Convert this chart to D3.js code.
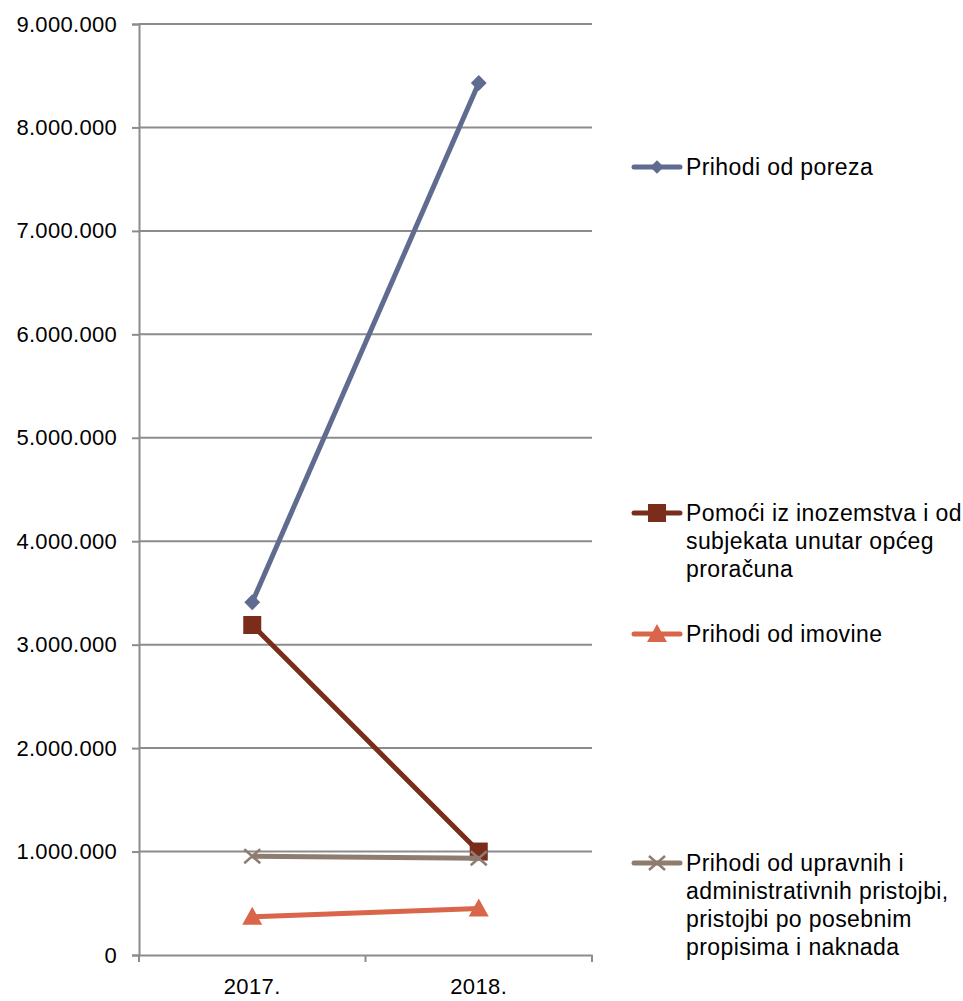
<!DOCTYPE html>
<html><head><meta charset="utf-8">
<script src="https://d3js.org/d3.v7.min.js"></script>
<style>body{margin:0;background:#fff}svg{display:block;font-family:"Liberation Sans",Arial,sans-serif}</style>
</head><body>
<script>
const categories = ["2017.", "2018."];
const seriesNames = [
  "Prihodi od poreza",
  "Pomoći iz inozemstva i od subjekata unutar općeg proračuna",
  "Prihodi od imovine",
  "Prihodi od upravnih i administrativnih pristojbi, pristojbi po posebnim propisima i naknada"
];
const porez = [3410000, 8430000];
const pomoci = [3190000, 1000000];
const imovina = [370000, 450000];
const upravne = [955000, 935000];
const yTicks = [0,1000000,2000000,3000000,4000000,5000000,6000000,7000000,8000000,9000000];
const legendLines = [
  ["Prihodi od poreza"],
  ["Pomoći iz inozemstva i od","subjekata unutar općeg","proračuna"],
  ["Prihodi od imovine"],
  ["Prihodi od upravnih i","administrativnih pristojbi,","pristojbi po posebnim","propisima i naknada"]
];
const colors = ["#5f6b8f","#7a2d1b","#d9664a","#8e7c70"];
const markers = ["diamond","square","triangle","x"];
const legendY = [167, 513, 634, 863];

const W=963,H=1001;
const svg=d3.select("body").append("svg").attr("width",W).attr("height",H);
const x=d3.scaleBand().domain(categories).range([139,592]);
const y=d3.scaleLinear().domain([0,9000000]).range([955,24]);
const fmt=v=>v===0?"0":d3.format(",")(v).replace(/,/g,".");
const FF="Liberation Sans, Arial, sans-serif";

// grid
svg.append("g").selectAll("line").data(yTicks.filter(d=>d>0)).join("line")
 .attr("x1",139).attr("x2",592).attr("y1",d=>y(d)).attr("y2",d=>y(d))
 .attr("stroke","#8c8c8c").attr("stroke-width",2);
// y axis
const ya=svg.append("g").attr("transform","translate(139,0)")
 .call(d3.axisLeft(y).tickValues(yTicks).tickFormat(fmt).tickSize(7).tickPadding(15));
ya.select(".domain").attr("stroke","#8c8c8c").attr("stroke-width",2);
ya.selectAll(".tick line").attr("stroke","#8c8c8c").attr("stroke-width",2);
ya.selectAll("text").attr("font-size",22).attr("letter-spacing",0.3).attr("fill","#000").attr("font-family",FF);
// x axis
const xa=svg.append("g").attr("transform","translate(0,955)")
 .call(d3.axisBottom(x).tickSize(0).tickPadding(23));
xa.select(".domain").attr("stroke","#8c8c8c").attr("stroke-width",2);
xa.selectAll("text").attr("font-size",22).attr("letter-spacing",0.4).attr("fill","#000").attr("font-family",FF);
svg.append("g").selectAll("line").data([139,365.5,592]).join("line")
 .attr("x1",d=>d).attr("x2",d=>d).attr("y1",955).attr("y2",962)
 .attr("stroke","#8c8c8c").attr("stroke-width",2);

function marker(g,type,color,cx,cy,s){
  if(type==="diamond"){
    g.append("path").attr("d",d3.symbol(d3.symbolDiamond2,160*s*s)()).attr("transform",`translate(${cx},${cy})`).attr("fill",color);
  } else if(type==="square"){
    g.append("rect").attr("x",cx-9*s).attr("y",cy-9*s).attr("width",18*s).attr("height",18*s).attr("fill",color);
  } else if(type==="triangle"){
    g.append("path").attr("d",`M${cx},${cy-10*s}L${cx+10*s},${cy+8*s}L${cx-10*s},${cy+8*s}Z`).attr("fill",color);
  } else {
    g.append("path").attr("d",`M${cx-8*s},${cy-7*s}L${cx+8*s},${cy+7*s}M${cx-8*s},${cy+7*s}L${cx+8*s},${cy-7*s}`).attr("stroke",color).attr("stroke-width",2.5);
  }
}
const allData=[porez,pomoci,imovina,upravne];
const line=d3.line().x((d,i)=>x(categories[i])+x.bandwidth()/2).y(d=>y(d));
allData.forEach((data,s)=>{
  const g=svg.append("g");
  g.append("path").attr("d",line(data)).attr("fill","none").attr("stroke",colors[s]).attr("stroke-width",5).attr("stroke-linejoin","round");
  data.forEach((v,i)=>marker(g,markers[s],colors[s],x(categories[i])+x.bandwidth()/2,y(v),1));
});
// legend
legendLines.forEach((lines,s)=>{
  const g=svg.append("g");
  const ly=legendY[s];
  g.append("line").attr("x1",634).attr("x2",680).attr("y1",ly).attr("y2",ly).attr("stroke",colors[s]).attr("stroke-width",5).attr("stroke-linecap","round");
  marker(g,markers[s],colors[s],657,ly,s===0?0.85:1);
  const t=g.append("text").attr("x",686).attr("font-size",23).attr("letter-spacing",0.4).attr("fill","#000").attr("font-family",FF);
  lines.forEach((l,i)=>t.append("tspan").attr("x",686).attr("y",ly+8+i*28).text(l));
});
</script>
</body></html>
